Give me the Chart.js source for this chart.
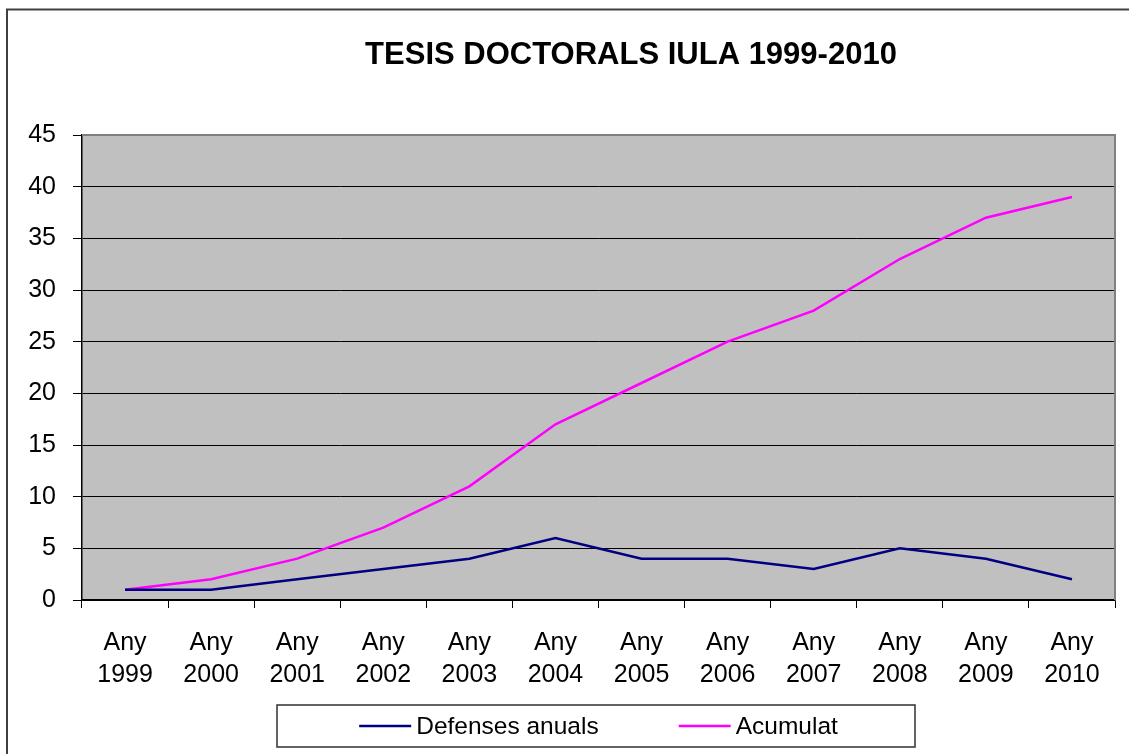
<!DOCTYPE html>
<html>
<head>
<meta charset="utf-8">
<script src="https://cdn.jsdelivr.net/npm/chart.js@4/dist/chart.umd.min.js"></script>
<style>
  body { margin: 0; background: #fff; }
  canvas { display: block; }
</style>
</head>
<body>
<canvas id="chart1Canvas" width="1129" height="754"></canvas>
<script>
// dades
const years = ['1999', '2000', '2001', '2002', '2003', '2004', '2005', '2006', '2007', '2008', '2009', '2010'];
const defensesAnuals = [1, 1, 2, 3, 4, 6, 4, 4, 3, 5, 4, 2];
const acumulat = [1, 2, 4, 7, 11, 17, 21, 25, 28, 33, 37, 39];
const yTicks = [0, 5, 10, 15, 20, 25, 30, 35, 40, 45];
const chartTitle = 'TESIS DOCTORALS IULA 1999-2010';

const labels = years.map(y => ['Any', y]);
const font = 'Liberation Sans, Arial, sans-serif';

// fons gris, vores, títol i llegenda
const decor = {
  id: 'decor',
  beforeDraw(chart) {
    const ctx = chart.ctx, a = chart.chartArea;
    ctx.save();
    ctx.fillStyle = '#c0c0c0';
    ctx.fillRect(a.left, a.top, a.right - a.left, a.bottom - a.top);
    // vora exterior
    ctx.strokeStyle = '#404040';
    ctx.lineWidth = 2;
    ctx.beginPath();
    ctx.moveTo(7, 754);
    ctx.lineTo(7, 9.5);
    ctx.lineTo(1129, 9.5);
    ctx.stroke();
    ctx.restore();
  },
  afterDraw(chart) {
    const ctx = chart.ctx, a = chart.chartArea;
    ctx.save();
    // vora gris dalt i dreta
    ctx.strokeStyle = '#808080';
    ctx.lineWidth = 2;
    ctx.beginPath();
    ctx.moveTo(a.left, a.top);
    ctx.lineTo(a.right, a.top);
    ctx.lineTo(a.right, a.bottom);
    ctx.stroke();

    // títol
    ctx.fillStyle = '#000';
    ctx.font = 'bold 31px ' + font;
    ctx.textAlign = 'center';
    ctx.textBaseline = 'middle';
    ctx.fillText(chartTitle, 631, 55);

    // llegenda
    const bx = 277, by = 705, bw = 638, bh = 42;
    ctx.strokeStyle = '#303030';
    ctx.lineWidth = 1.5;
    ctx.strokeRect(bx, by, bw, bh);
    ctx.font = '24.5px ' + font;
    ctx.textAlign = 'left';
    const lineLen = 52, gap = 5, itemGap = 80;
    const ds = chart.data.datasets;
    const widths = ds.map(d => lineLen + gap + ctx.measureText(d.label).width);
    const total = widths.reduce((s, w) => s + w, 0) + itemGap * (ds.length - 1);
    let x = (a.left + a.right) / 2 - total / 2;
    const cy = by + bh / 2;
    ds.forEach((d, i) => {
      ctx.strokeStyle = d.borderColor;
      ctx.lineWidth = 2.5;
      ctx.beginPath();
      ctx.moveTo(x, cy);
      ctx.lineTo(x + lineLen, cy);
      ctx.stroke();
      ctx.fillStyle = '#000';
      ctx.fillText(d.label, x + lineLen + gap, cy + 1);
      x += widths[i] + itemGap;
    });
    ctx.restore();
  }
};

var ctx = document.getElementById('chart1Canvas').getContext('2d');
var myChart = new Chart(ctx, {
  type: 'line',
  data: {
    labels: labels,
    datasets: [
      {
        label: 'Defenses anuals',
        data: defensesAnuals,
        borderColor: '#000080',
        backgroundColor: '#000080',
        borderWidth: 2.5,
        pointRadius: 0,
        tension: 0
      },
      {
        label: 'Acumulat',
        data: acumulat,
        borderColor: '#ff00ff',
        backgroundColor: '#ff00ff',
        borderWidth: 2.5,
        pointRadius: 0,
        tension: 0
      }
    ]
  },
  options: {
    responsive: false,
    animation: false,
    layout: { padding: { top: 135, right: 14, left: 0, bottom: 0 } },
    plugins: {
      legend: { display: false },
      title: { display: false },
      tooltip: { enabled: false }
    },
    scales: {
      x: {
        offset: true,
        grid: {
          offset: true,
          drawOnChartArea: false,
          drawTicks: true,
          tickLength: 8,
          color: '#000'
        },
        border: { color: '#000', width: 1.5 },
        ticks: {
          color: '#000',
          padding: 19,
          maxRotation: 0,
          autoSkip: false,
          font: { family: font, size: 25, lineHeight: 1.28 }
        },
        afterFit: scale => { scale.height = 154; }
      },
      y: {
        min: 0,
        max: 45,
        afterBuildTicks: scale => { scale.ticks = yTicks.map(v => ({ value: v })); },
        grid: { color: '#000', lineWidth: 1, tickLength: 9 },
        border: { color: '#000', width: 1.5 },
        ticks: {
          color: '#000',
          padding: 17,
          font: { family: font, size: 25 }
        },
        afterFit: scale => { scale.width = 82; }
      }
    }
  },
  plugins: [decor]
});
</script>
</body>
</html>
